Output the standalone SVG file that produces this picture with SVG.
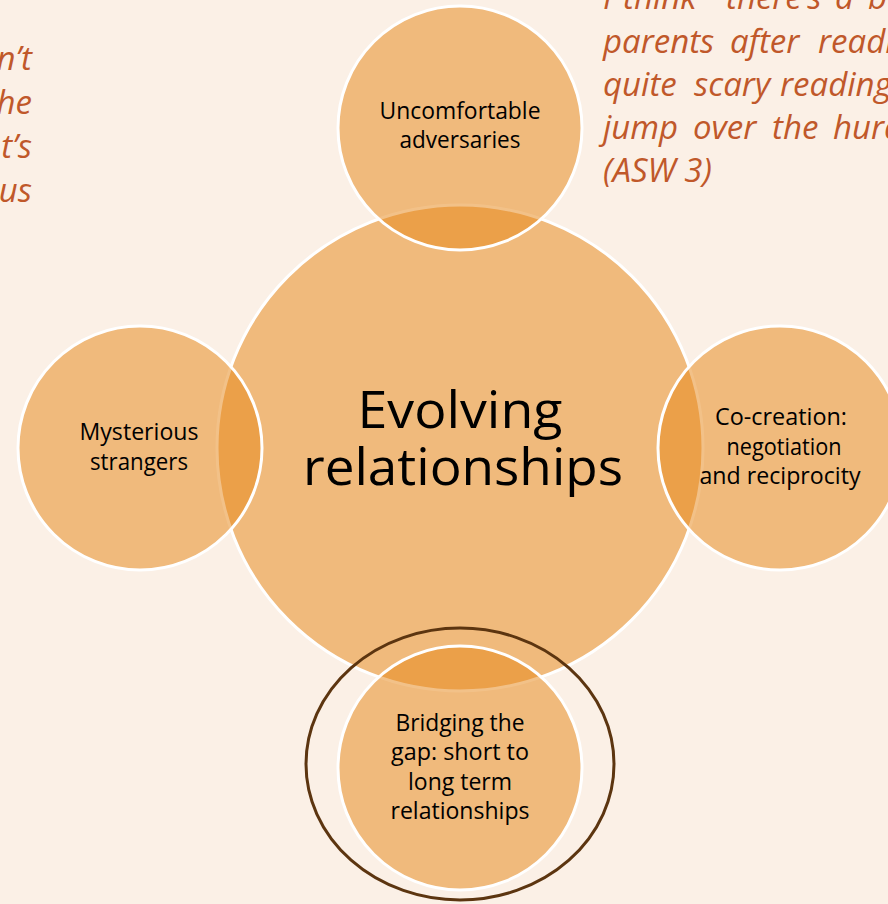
<svg xmlns="http://www.w3.org/2000/svg" width="888" height="904" viewBox="0 0 888 904">
  <style>
    .bg { fill: #FBF0E6; }
    .disc { fill: #E6881A; fill-opacity: 0.52; stroke: #FFFFFF; stroke-width: 3; }
    .label { font-family: "Open Sans", "Noto Sans", "Liberation Sans", sans-serif; font-size: 23px; fill: #000000; text-anchor: middle; }
    .title { font-family: "Open Sans", "Noto Sans", "Liberation Sans", sans-serif; font-size: 52px; fill: #000000; text-anchor: middle; }
    .quote { font-family: "Open Sans", "Noto Sans", "Liberation Sans", sans-serif; font-style: italic; font-size: 33px; fill: #C0582A; }
    .ring { fill: none; stroke: #5C3510; stroke-width: 3; }
  </style>

  <rect class="bg" x="0" y="0" width="888" height="904"/>

  <!-- quotation fragments at the page edges -->
  <g id="quote-left" class="quote" text-anchor="end">
    <text x="32" y="70">n’t</text>
    <text x="32" y="114">he</text>
    <text x="32" y="158">t’s</text>
    <text x="32" y="202">us</text>
  </g>
  <g id="quote-right" class="quote">
    <text y="9"><tspan x="603">I</tspan><tspan x="623">think</tspan><tspan x="726">there’s</tspan><tspan x="835">a</tspan><tspan x="868">b</tspan></text>
    <text y="53"><tspan x="603">parents</tspan><tspan x="730">after</tspan><tspan x="818">readi</tspan></text>
    <text y="96"><tspan x="603">quite</tspan><tspan x="694">scary</tspan><tspan x="780">reading</tspan></text>
    <text y="139"><tspan x="603">jump</tspan><tspan x="693">over</tspan><tspan x="772">the</tspan><tspan x="833">hurd</tspan></text>
    <text y="182"><tspan x="603">(ASW 3)</tspan></text>
  </g>

  <!-- central theme -->
  <g id="node-center">
    <circle class="disc" cx="460" cy="448" r="243"/>
    <text class="title" x="460" y="428" textLength="205" lengthAdjust="spacingAndGlyphs">Evolving</text>
    <text class="title" x="463" y="485" textLength="320" lengthAdjust="spacingAndGlyphs">relationships</text>
  </g>

  <!-- surrounding sub-themes -->
  <g id="node-top">
    <circle class="disc" cx="460" cy="128" r="122"/>
    <text class="label" x="460" y="119" textLength="161" lengthAdjust="spacingAndGlyphs">Uncomfortable</text>
    <text class="label" x="460" y="148" textLength="121" lengthAdjust="spacingAndGlyphs">adversaries</text>
  </g>

  <g id="node-left">
    <circle class="disc" cx="140" cy="448" r="122"/>
    <text class="label" x="139" y="440" textLength="119" lengthAdjust="spacingAndGlyphs">Mysterious</text>
    <text class="label" x="139" y="470" textLength="98" lengthAdjust="spacingAndGlyphs">strangers</text>
  </g>

  <g id="node-right">
    <circle class="disc" cx="780" cy="448" r="122"/>
    <text class="label" x="781" y="425" textLength="132" lengthAdjust="spacingAndGlyphs">Co-creation:</text>
    <text class="label" x="784" y="455" textLength="115" lengthAdjust="spacingAndGlyphs">negotiation</text>
    <text class="label" x="780" y="484" textLength="161" lengthAdjust="spacingAndGlyphs">and reciprocity</text>
  </g>

  <g id="node-bottom">
    <circle class="disc" cx="460" cy="768" r="122"/>
    <ellipse class="ring" cx="460" cy="764" rx="154" ry="136"/>
    <text class="label" x="460" y="731" textLength="129" lengthAdjust="spacingAndGlyphs">Bridging the</text>
    <text class="label" x="460" y="760" textLength="138" lengthAdjust="spacingAndGlyphs">gap: short to</text>
    <text class="label" x="460" y="790" textLength="104" lengthAdjust="spacingAndGlyphs">long term</text>
    <text class="label" x="460" y="819" textLength="139" lengthAdjust="spacingAndGlyphs">relationships</text>
  </g>
</svg>
